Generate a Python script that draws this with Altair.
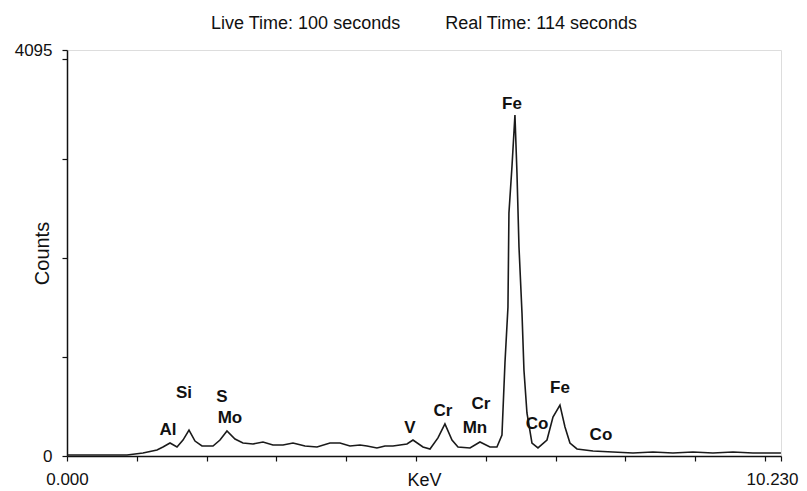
import altair as alt
import pandas as pd

# Spectrum trace (energy in keV, counts)
kev = [0.000, 0.330, 0.616, 0.860, 1.089, 1.289, 1.375, 1.476, 1.576, 1.662,
       1.748, 1.834, 1.934, 2.092, 2.192, 2.292, 2.407, 2.521, 2.665, 2.808,
       2.951, 3.095, 3.238, 3.410, 3.582, 3.768, 3.911, 4.054, 4.198, 4.298,
       4.441, 4.556, 4.670, 4.771, 4.871, 4.957, 5.100, 5.201, 5.315, 5.415,
       5.516, 5.602, 5.774, 5.917, 6.060, 6.160, 6.232, 6.275, 6.318, 6.332,
       6.375, 6.418, 6.447, 6.476, 6.519, 6.547, 6.590, 6.662, 6.748, 6.877,
       6.963, 7.063, 7.135, 7.206, 7.307, 7.536, 7.822, 8.109, 8.395, 8.682,
       8.968, 9.255, 9.542, 9.828, 10.229]
counts = [10, 10, 10, 10, 30, 61, 91, 131, 91, 161,
          262, 151, 101, 101, 161, 252, 171, 131, 121, 141,
          111, 111, 131, 101, 91, 131, 131, 101, 111, 101,
          81, 101, 101, 111, 121, 161, 91, 71, 182, 323,
          161, 91, 81, 141, 91, 91, 212, 938, 1503, 2451,
          2915, 3439, 2854, 2108, 1442, 867, 434, 131, 81, 161,
          393, 514, 292, 131, 71, 50, 40, 30, 40, 30,
          40, 30, 40, 30, 30]

# Element labels
elements = ["Al", "Si", "S", "Mo", "V", "Cr", "Cr", "Mn", "Fe", "Co", "Fe", "Co"]
elem_kev = [1.447, 1.676, 2.221, 2.335, 4.914, 5.387, 5.931, 5.845, 6.375, 6.734, 7.063, 7.650]
elem_counts = [262, 635, 595, 383, 282, 454, 524, 282, 3550, 323, 686, 212]

x_ticks = [0, 1, 2, 3, 4, 5, 6, 7, 8, 9, 10, 10.23]
y_ticks = [0, 1000, 2000, 3000, 4000, 4095]

spec = pd.DataFrame({"keV": kev, "Counts": counts})
labels = pd.DataFrame({"el": elements, "keV": elem_kev, "Counts": elem_counts})

FONT = "Liberation Sans"

x_scale = alt.Scale(domain=[0, 10.23], nice=False, zero=False)
y_scale = alt.Scale(domain=[0, 4095], nice=False)

x_axis = alt.Axis(
    title="KeV", values=x_ticks, grid=False,
    labelExpr="datum.value == 0 ? '0.000' : (datum.value > 10.2 ? '10.230' : '')",
    labelFlush=False, labelOverlap=False, tickSize=5, labelPadding=10,
    labelOffset={"condition": {"test": "datum.value > 10.2", "value": -9}, "value": 0},
    titleY=15, titleBaseline="top", titlePadding=0,
    domainColor="#111", domainWidth=1.5, tickColor="#111", tickWidth=1.2,
    labelFont=FONT, labelFontSize=17, labelColor="#111",
    titleFont=FONT, titleFontSize=18, titleFontWeight="normal", titleColor="#111",
)
y_axis = alt.Axis(
    title="Counts", values=y_ticks, grid=False,
    labelExpr="datum.value == 0 ? '0' : (datum.value > 4050 ? '4095' : '')",
    labelFlush=False, labelOverlap=False, tickSize=5, labelPadding=10,
    titleX=-25, titleBaseline="middle", titleAngle=270,
    domainColor="#111", domainWidth=1.5, tickColor="#111", tickWidth=1.2,
    labelFont=FONT, labelFontSize=17, labelColor="#111",
    titleFont=FONT, titleFontSize=20, titleFontWeight="normal", titleColor="#111",
)

line = alt.Chart(spec).mark_line(color="#1a1a1a", strokeWidth=1.6).encode(
    x=alt.X("keV:Q", scale=x_scale, axis=x_axis),
    y=alt.Y("Counts:Q", scale=y_scale, axis=y_axis),
)

text = alt.Chart(labels).mark_text(
    font=FONT, fontSize=17, fontWeight="bold", color="#111",
    align="center", baseline="middle",
).encode(
    x=alt.X("keV:Q", scale=x_scale),
    y=alt.Y("Counts:Q", scale=y_scale),
    text="el:N",
)

title_text = "Live Time: 100 seconds" + "\u00a0" * 9 + "Real Time: 114 seconds"

chart = alt.layer(line, text).properties(
    width=714, height=406,
    autosize=alt.AutoSizeParams(type="none"),
    padding={"left": 59, "top": 42, "right": 18, "bottom": 33},
    title=alt.TitleParams(title_text, font=FONT, fontSize=18, fontWeight="normal",
                          color="#111", anchor="middle", offset=8),
).configure_view(stroke="#111", strokeWidth=1.5).configure(background="white")

chart.save("out.html", embed_options={"renderer": "svg", "actions": False})
